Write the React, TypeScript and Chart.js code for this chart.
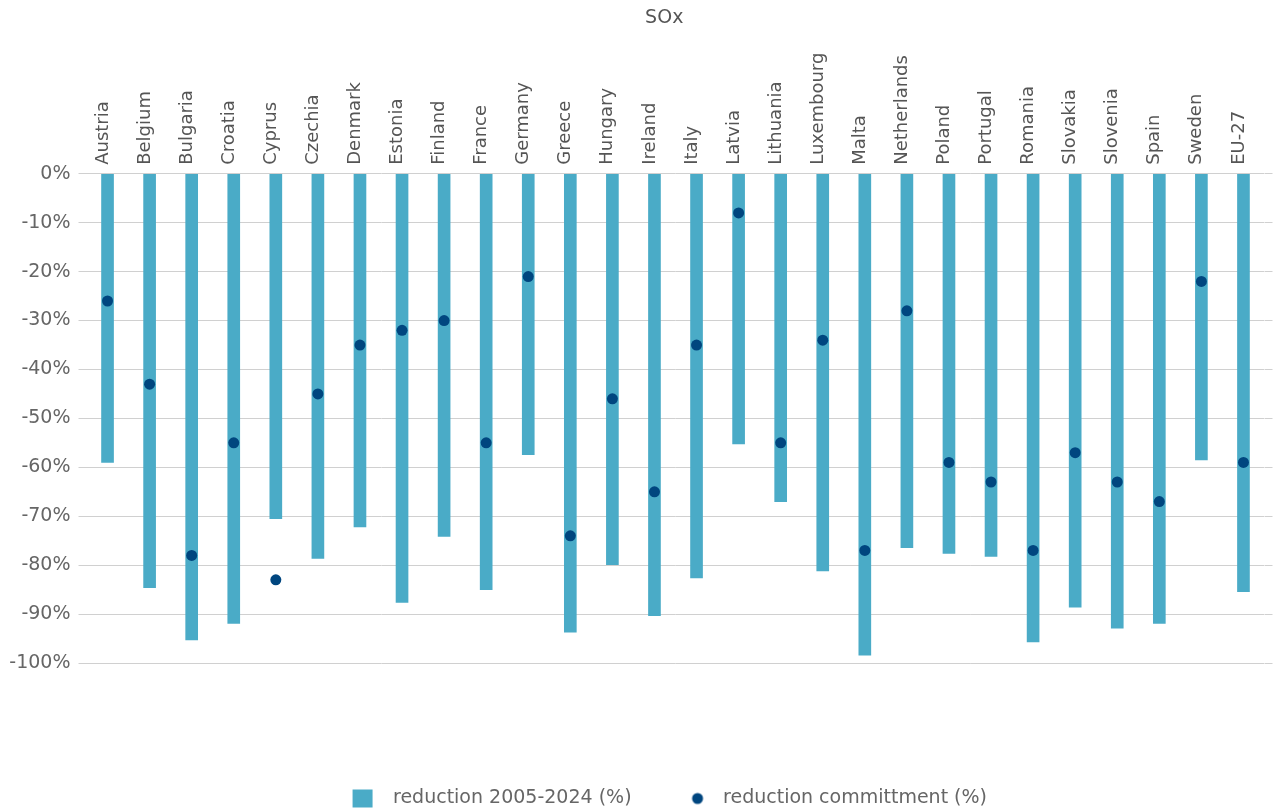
import React, { useEffect, useRef } from "react";
import { Chart, registerables } from "chart.js";

Chart.register(...registerables);

const countries = [
  "Austria", "Belgium", "Bulgaria", "Croatia", "Cyprus", "Czechia", "Denmark",
  "Estonia", "Finland", "France", "Germany", "Greece", "Hungary", "Ireland",
  "Italy", "Latvia", "Lithuania", "Luxembourg", "Malta", "Netherlands", "Poland",
  "Portugal", "Romania", "Slovakia", "Slovenia", "Spain", "Sweden", "EU-27",
];

const reduction2005to2024 = [
  -59.0, -84.6, -95.3, -91.9, -70.5, -78.6, -72.2,
  -87.6, -74.1, -85.0, -57.4, -93.7, -79.9, -90.3,
  -82.6, -55.2, -67.0, -81.2, -98.4, -76.4, -77.6,
  -78.2, -95.7, -88.6, -92.9, -91.9, -58.5, -85.4,
];

const reductionCommitment = [
  -26, -43, -78, -55, -83, -45, -35,
  -32, -30, -55, -21, -74, -46, -65,
  -35, -8, -55, -34, -77, -28, -59,
  -63, -77, -57, -63, -67, -22, -59,
];

const seriesLabels = ["reduction 2005-2024 (%)", "reduction committment (%)"];
const chartTitle = "SOx";
const yMin = -100;
const yMax = 0;
const yStep = 10;

const BAR_COLOR = "#4aabc7";
const DOT_COLOR = "#00467f";
const GRID_COLOR = "#d0d0d0";
const FONT = "'DejaVu Sans', sans-serif";
const LEGEND_BOX_W = 72;

function makeMarker(kind: "square" | "dot"): HTMLCanvasElement {
  const c = document.createElement("canvas");
  c.width = LEGEND_BOX_W;
  c.height = 20;
  const ctx = c.getContext("2d")!;
  if (kind === "square") {
    ctx.fillStyle = BAR_COLOR;
    ctx.fillRect(41, 1, 20, 18);
  } else {
    ctx.fillStyle = DOT_COLOR;
    ctx.beginPath();
    ctx.arc(56, 10, 5.5, 0, Math.PI * 2);
    ctx.fill();
  }
  return c;
}

export default function App() {
  const ref = useRef<HTMLCanvasElement | null>(null);

  useEffect(() => {
    if (!ref.current) return;
    const squareMarker = makeMarker("square");
    const dotMarker = makeMarker("dot");

    const boxShift = {
      id: "boxShift",
      afterLayout(c: any) {
        const t = c.titleBlock;
        if (t) t.left += 56;
        const l = c.legend;
        if (l) {
          l.left += 26;
          l.top += 6;
          l.bottom += 6;
        }
      },
    };

    const chart = new Chart(ref.current, {
      type: "bar",
      data: {
        labels: countries,
        datasets: [
          {
            type: "bar",
            label: seriesLabels[0],
            data: reduction2005to2024,
            backgroundColor: BAR_COLOR,
            barThickness: 12,
            order: 1,
          } as any,
          {
            type: "line",
            label: seriesLabels[1],
            data: reductionCommitment,
            showLine: false,
            pointRadius: 5.5,
            pointHoverRadius: 5.5,
            pointBackgroundColor: DOT_COLOR,
            pointBorderWidth: 0,
            borderColor: DOT_COLOR,
            backgroundColor: DOT_COLOR,
            order: 0,
          } as any,
        ],
      },
      options: {
        animation: false,
        responsive: true,
        maintainAspectRatio: false,
        layout: { padding: { left: 0, right: 1.5, top: 0, bottom: 0 } },
        scales: {
          x: {
            position: "top",
            offset: true,
            grid: { display: false, drawTicks: false },
            border: { display: false },
            ticks: {
              autoSkip: false,
              minRotation: 90,
              maxRotation: 90,
              padding: 9,
              labelOffset: 17,
              color: "#555",
              font: { family: FONT, size: 18 },
            },
            afterFit: (s: any) => {
              s.height = 141;
            },
          },
          x2: {
            type: "category",
            position: "bottom",
            grid: { display: false, drawTicks: false },
            border: { display: false },
            ticks: { display: false },
            afterFit: (s: any) => {
              s.height = 110;
            },
          },
          y: {
            min: yMin,
            max: yMax,
            ticks: {
              stepSize: yStep,
              padding: 8,
              color: "#666",
              font: { family: FONT, size: 19 },
              callback: (v: any) => `${v}%`,
            },
            grid: { color: GRID_COLOR, tickLength: 8, drawTicks: true },
            border: { display: false },
            afterFit: (s: any) => {
              s.width = 86.5;
            },
          },
          y2: {
            position: "right",
            min: yMin,
            max: yMax,
            ticks: { display: false, stepSize: yStep },
            grid: { drawOnChartArea: false, color: GRID_COLOR, tickLength: 8, drawTicks: true },
            border: { display: false },
            afterFit: (s: any) => {
              s.width = 8;
            },
          },
        } as any,
        plugins: {
          title: {
            display: true,
            text: chartTitle,
            color: "#555",
            font: { family: FONT, size: 19, weight: "normal" },
            padding: { top: 7, bottom: 3 },
          },
          legend: {
            position: "bottom",
            labels: {
              usePointStyle: true,
              pointStyleWidth: LEGEND_BOX_W,
              boxHeight: 19,
              padding: 10,
              color: "#666",
              font: { family: FONT, size: 19 },
              generateLabels: () => [
                {
                  text: seriesLabels[0],
                  fillStyle: BAR_COLOR,
                  strokeStyle: BAR_COLOR,
                  lineWidth: 0,
                  pointStyle: squareMarker,
                  hidden: false,
                  datasetIndex: 0,
                  fontColor: "#666",
                },
                {
                  text: seriesLabels[1],
                  fillStyle: DOT_COLOR,
                  strokeStyle: DOT_COLOR,
                  lineWidth: 0,
                  pointStyle: dotMarker,
                  hidden: false,
                  datasetIndex: 1,
                  fontColor: "#666",
                },
              ],
            },
          } as any,
          tooltip: { enabled: false },
        },
      },
      plugins: [boxShift],
    });
    return () => chart.destroy();
  }, []);

  return (
    <div style={{ position: "absolute", left: 0, top: 0, width: 1274, height: 812 }}>
      <canvas ref={ref} />
    </div>
  );
}
